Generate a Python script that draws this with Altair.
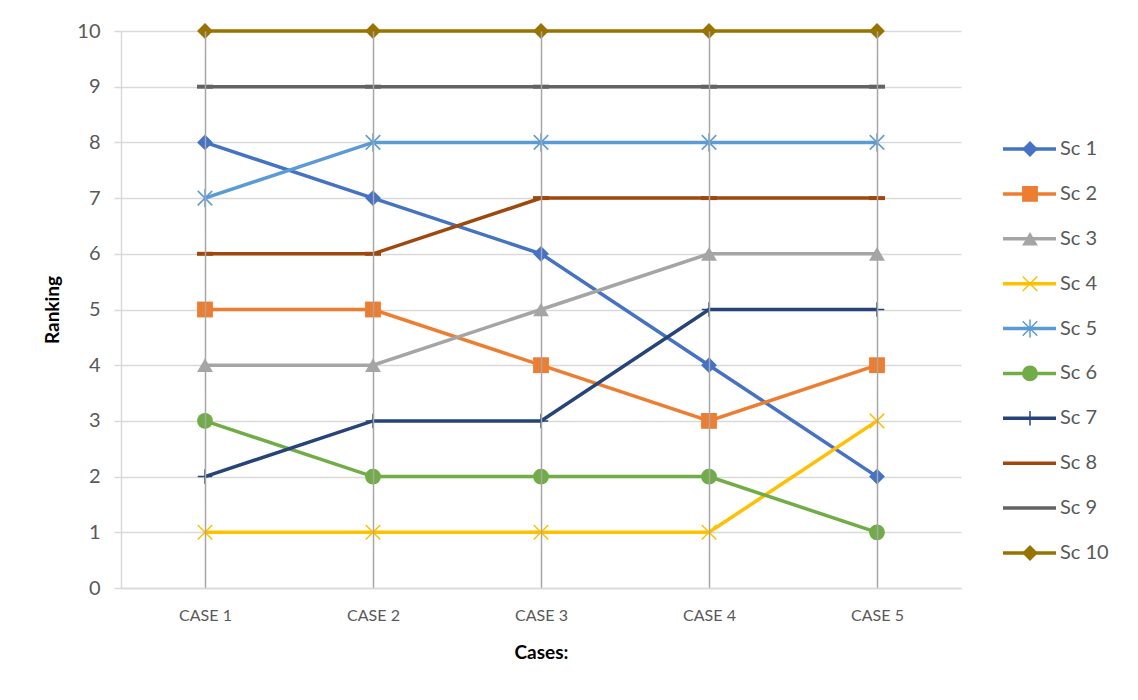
import altair as alt
import pandas as pd

cases = ["CASE 1", "CASE 2", "CASE 3", "CASE 4", "CASE 5"]
series_names = ["Sc 1", "Sc 2", "Sc 3", "Sc 4", "Sc 5", "Sc 6", "Sc 7", "Sc 8", "Sc 9", "Sc 10"]
sc1 = [8, 7, 6, 4, 2]
sc2 = [5, 5, 4, 3, 4]
sc3 = [4, 4, 5, 6, 6]
sc4 = [1, 1, 1, 1, 3]
sc5 = [7, 8, 8, 8, 8]
sc6 = [3, 2, 2, 2, 1]
sc7 = [2, 3, 3, 5, 5]
sc8 = [6, 6, 7, 7, 7]
sc9 = [9, 9, 9, 9, 9]
sc10 = [10, 10, 10, 10, 10]
y_ticks = [0, 1, 2, 3, 4, 5, 6, 7, 8, 9, 10]

colors = ["#4472C4", "#ED7D31", "#A5A5A5", "#FFC000", "#5B9BD5",
          "#70AD47", "#264478", "#9E480E", "#636363", "#997300"]
shapes = ["diamond", "square", "triangle-up",
          "M-1,-1L1,1M-1,1L1,-1",
          "M-1,-1L1,1M-1,1L1,-1M0,-1.25L0,1.25",
          "circle",
          "M-1,0L1,0M0,-1L0,1",
          "M-1,0L1,0",
          "M-1,0L1,0",
          "diamond"]

all_values = [sc1, sc2, sc3, sc4, sc5, sc6, sc7, sc8, sc9, sc10]
rows = []
for name, vals in zip(series_names, all_values):
    for c, v in zip(cases, vals):
        rows.append({"series": name, "case": c, "rank": v})
df = pd.DataFrame(rows)
legend_df = pd.DataFrame({"series": series_names})

FONT = "Lato"
filled_set = ["Sc 1", "Sc 2", "Sc 3", "Sc 6", "Sc 10"]
thin_set = ["Sc 4", "Sc 5", "Sc 7"]
dash_set = ["Sc 8", "Sc 9"]

color_enc = alt.Color("series:N", scale=alt.Scale(domain=series_names, range=colors), legend=None)
shape_enc = alt.Shape("series:N", scale=alt.Scale(domain=series_names, range=shapes), legend=None)

x_enc = alt.X("case:N", sort=cases,
              scale=alt.Scale(type="point", padding=0.5),
              axis=alt.Axis(title="Cases:", labelAngle=0, labelFontSize=16, labelColor="#595959",
                            labelFont=FONT, labelPadding=19, ticks=False,
                            domainColor="#d9d9d9", domainWidth=1.5,
                            grid=True, gridColor="#a6a6a6", gridWidth=1.5, zindex=1,
                            titleFont=FONT, titleFontSize=19, titleFontWeight="bold",
                            titleColor="#000000", titlePadding=20))
y_enc = alt.Y("rank:Q", scale=alt.Scale(domain=[0, 10], nice=False),
              axis=alt.Axis(title="Ranking", values=y_ticks, labelFontSize=20, labelColor="#595959",
                            labelFont=FONT, labelPadding=14, tickSize=7, tickColor="#d9d9d9",
                            tickWidth=1.5, domainColor="#d9d9d9", domainWidth=1.5,
                            gridColor="#d9d9d9", gridWidth=1.5,
                            titleFont=FONT, titleFontSize=19, titleFontWeight="bold",
                            titleColor="#000000", titlePadding=14))

base = alt.Chart(df).encode(x=x_enc, y=y_enc, color=color_enc)

lines = base.mark_line(strokeWidth=3.5).encode(detail="series:N")
pts_filled = base.mark_point(filled=True, size=250, opacity=1).encode(shape=shape_enc).transform_filter(
    alt.FieldOneOfPredicate(field="series", oneOf=filled_set))
pts_thin = base.mark_point(filled=False, size=210, strokeWidth=1.5, opacity=1).encode(shape=shape_enc).transform_filter(
    alt.FieldOneOfPredicate(field="series", oneOf=thin_set))
pts_dash = base.mark_point(filled=False, size=256, strokeWidth=4, opacity=1).encode(shape=shape_enc).transform_filter(
    alt.FieldOneOfPredicate(field="series", oneOf=dash_set))

# legend drawn as layers to the right of the plot
leg_y = alt.Y("series:N", scale=alt.Scale(type="point", padding=0, domain=series_names, range=[118, 522]), axis=None)
leg_base = alt.Chart(legend_df).encode(y=leg_y, color=color_enc)
leg_rule = leg_base.mark_rule(strokeWidth=3.5).encode(x=alt.value(882), x2=alt.value(935))
leg_filled = leg_base.mark_point(filled=True, size=250, opacity=1).encode(
    x=alt.value(909), shape=shape_enc).transform_filter(
    alt.FieldOneOfPredicate(field="series", oneOf=filled_set))
leg_thin = leg_base.mark_point(filled=False, size=210, strokeWidth=1.5, opacity=1).encode(
    x=alt.value(909), shape=shape_enc).transform_filter(
    alt.FieldOneOfPredicate(field="series", oneOf=thin_set))
leg_text = leg_base.mark_text(align="left", baseline="middle", fontSize=20, font=FONT,
                              color="#595959").encode(x=alt.value(939), text="series:N",
                                                      color=alt.value("#595959"))

plot = alt.layer(lines, pts_filled, pts_thin, pts_dash)
legend = alt.layer(leg_rule, leg_filled, leg_thin, leg_text)

chart = alt.layer(plot, legend).resolve_scale(y="independent").properties(
    width=840, height=557,
    padding={"left": 35, "top": 13, "right": 5, "bottom": 5},
    background="white",
).configure_view(stroke=None)

chart.save("out.html", embed_options={"renderer": "svg", "actions": False})
